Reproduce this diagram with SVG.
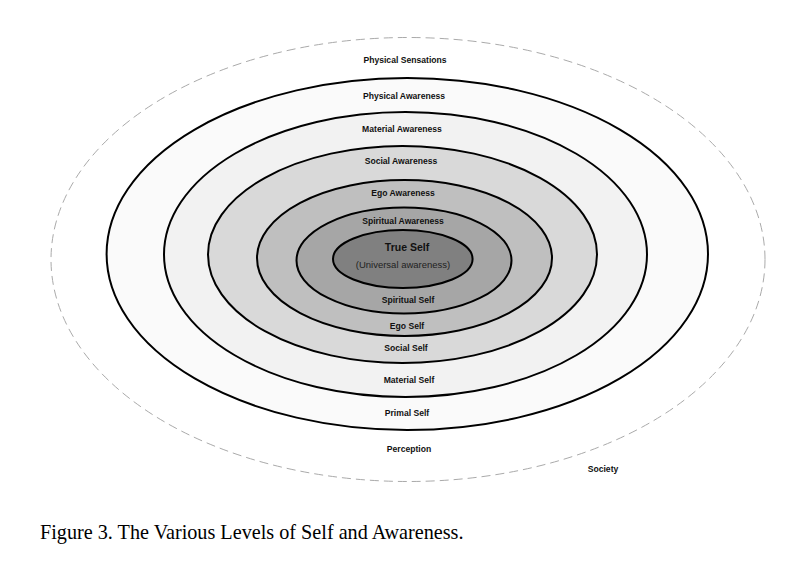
<svg xmlns="http://www.w3.org/2000/svg" width="808" height="575" viewBox="0 0 808 575">
<style>
.ring{stroke:#000;stroke-width:2}
.lbl{font-family:"Liberation Sans",Arial,sans-serif;font-size:8.6px;font-weight:bold;fill:#111;text-anchor:middle}
.cap{font-family:"Liberation Serif","Times New Roman",serif;font-size:20.2px;fill:#000}
</style>
<rect width="808" height="575" fill="#fff"/>
<g id="society">
<ellipse cx="408" cy="259.5" rx="357" ry="222" fill="#fff" stroke="#aaa" stroke-width="1" stroke-dasharray="9,5"/>
</g>
<g id="primal">
<ellipse class="ring" cx="407.3" cy="254" rx="300.7" ry="176" fill="#fafafa"/>
</g>
<g id="material">
<ellipse class="ring" cx="405.5" cy="254.5" rx="241.5" ry="142.5" fill="#f2f2f2"/>
</g>
<g id="social">
<ellipse class="ring" cx="402.5" cy="254.5" rx="194.5" ry="108.5" fill="#d9d9d9"/>
</g>
<g id="ego">
<ellipse class="ring" cx="404.5" cy="258" rx="147.5" ry="78" fill="#bfbfbf"/>
</g>
<g id="spiritual">
<ellipse class="ring" cx="404" cy="260.5" rx="107.5" ry="53" fill="#a6a6a6"/>
</g>
<g id="true-self">
<ellipse class="ring" cx="402.8" cy="259" rx="69.8" ry="29" fill="#808080"/>
</g>
<g id="connectors"></g>
<g id="labels">
<text class="lbl" x="405" y="63">Physical Sensations</text>
<text class="lbl" x="404" y="99">Physical Awareness</text>
<text class="lbl" x="402" y="132">Material Awareness</text>
<text class="lbl" x="401" y="164">Social Awareness</text>
<text class="lbl" x="403" y="196">Ego Awareness</text>
<text class="lbl" x="403" y="224">Spiritual Awareness</text>
<text class="lbl" x="407" y="251" style="font-size:10.5px">True Self</text>
<text class="lbl" x="403" y="268" style="fill:#222;font-weight:normal;font-size:9.5px">(Universal awareness)</text>
<text class="lbl" x="408" y="303">Spiritual Self</text>
<text class="lbl" x="407" y="329">Ego Self</text>
<text class="lbl" x="406" y="351">Social Self</text>
<text class="lbl" x="409" y="383">Material Self</text>
<text class="lbl" x="407" y="416">Primal Self</text>
<text class="lbl" x="409" y="452">Perception</text>
<text class="lbl" x="603" y="472">Society</text>
</g>
<text class="cap" x="40" y="539">Figure 3. The Various Levels of Self and Awareness.</text>
</svg>
